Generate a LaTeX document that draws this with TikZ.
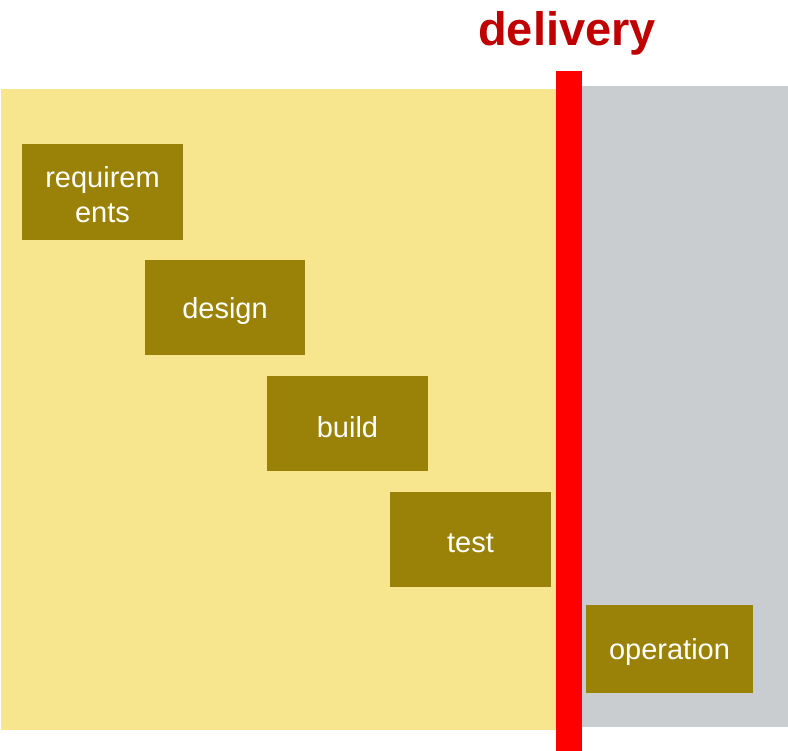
\documentclass[tikz,border=0pt]{standalone}
\usepackage{fontspec}
\setmainfont{Liberation Sans}
\definecolor{phase}{HTML}{F7E68E}
\definecolor{opsbg}{HTML}{CACDD0}
\definecolor{stagebox}{HTML}{9A8208}
\definecolor{deliv}{HTML}{C00000}
\begin{document}
\begin{tikzpicture}[x=1pt,y=-1pt,
  stagebox/.style={fill=stagebox,draw=none,text=white,
    font=\fontsize{29}{35}\selectfont,align=center,inner sep=0pt}]
\useasboundingbox (0,0) rectangle (788,751);
% background regions
\fill[phase] (1,89) rectangle (556,730);
\fill[opsbg] (582,86) rectangle (788,727);
% delivery line
\fill[red] (556,71) rectangle (582,751);
\node[text=deliv,font=\fontsize{47}{50}\bfseries\selectfont,anchor=base] (deliv) at (567,46) {delivery};
% stages
\fill[stagebox] (22,144) rectangle (183,240);
\node[stagebox] (req) at (102.5,195) {requirem\\ents};
\fill[stagebox] (145,260) rectangle (305,355);
\node[stagebox] (des) at (225,311) {design};
\fill[stagebox] (267,376) rectangle (428,471);
\node[stagebox] (bld) at (347.5,427) {build};
\fill[stagebox] (390,492) rectangle (551,587);
\node[stagebox] (tst) at (470.5,543) {test};
\fill[stagebox] (586,605) rectangle (753,693);
\node[stagebox] (ops) at (669.5,652) {operation};
\end{tikzpicture}
\end{document}
